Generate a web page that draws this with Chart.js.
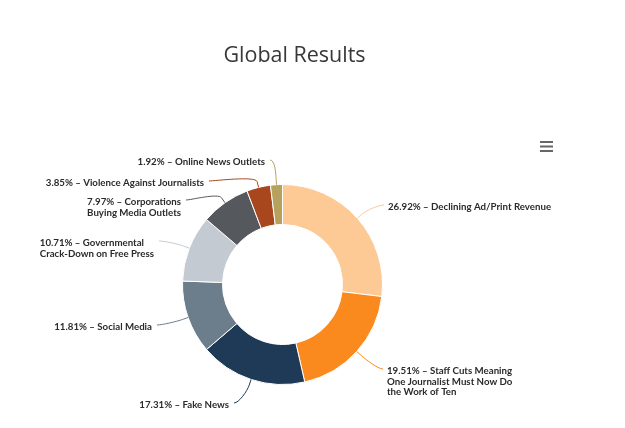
<!DOCTYPE html>
<html>
<head>
<meta charset="utf-8">
<title>Global Results</title>
<script src="https://cdn.jsdelivr.net/npm/chart.js@4.4.1/dist/chart.umd.min.js"></script>
<style>
  html, body { margin: 0; padding: 0; background: #fff; }
  #wrap { width: 625px; height: 428px; }
</style>
</head>
<body>
<div id="wrap"><canvas id="myChart" width="625" height="428"></canvas></div>
<script>
// reasons and their share of answers, clockwise from the top
var categories = [
  "Declining Ad/Print Revenue",
  "Staff Cuts Meaning One Journalist Must Now Do the Work of Ten",
  "Fake News",
  "Social Media",
  "Governmental Crack-Down on Free Press",
  "Corporations Buying Media Outlets",
  "Violence Against Journalists",
  "Online News Outlets"
];
var shares = [26.92, 19.51, 17.31, 11.81, 10.71, 7.97, 3.85, 1.92];
var sliceColors = ["#fdca96", "#fa8a1e", "#1f3a56", "#6c7d8c", "#c3cad2", "#55595e", "#a8471d", "#b6a15d"];

var chartTitle = "Global Results";

// where each label sits, relative to the pie centre, and how wide it may wrap
var labelAnchors = [
  [101.5, -79.5], [100.5, 84.5], [-48.5, 118.5], [-125.5, 40.5],
  [-123.5, -43.5], [-96.5, -84.5], [-73.5, -103.5], [-12.5, -124.5]
];
var labelWrap = [300, 132, 300, 300, 124, 102, 300, 300];

var labelFont = "bold 9.7px Lato";
var lineHeight = 10.5;

function wrapText(ctx, text, maxW) {
  var words = text.split(" ");
  var lines = [];
  var cur = "";
  for (var i = 0; i < words.length; i++) {
    var test = cur ? cur + " " + words[i] : words[i];
    if (cur && ctx.measureText(test).width > maxW) {
      lines.push(cur);
      cur = words[i];
    } else {
      cur = test;
    }
  }
  if (cur) lines.push(cur);
  return lines;
}

var pieLabels = {
  id: "pieLabels",
  afterDatasetsDraw: function(chart) {
    var ctx = chart.ctx;
    var meta = chart.getDatasetMeta(0);
    ctx.save();
    ctx.font = labelFont;
    ctx.textBaseline = "middle";
    meta.data.forEach(function(arc, i) {
      var p = arc.getProps(["x", "y", "startAngle", "endAngle", "outerRadius"], true);
      var mid = (p.startAngle + p.endAngle) / 2;
      var touch = { x: p.x + Math.cos(mid) * p.outerRadius, y: p.y + Math.sin(mid) * p.outerRadius };
      var brk = { x: p.x + Math.cos(mid) * (p.outerRadius + 6), y: p.y + Math.sin(mid) * (p.outerRadius + 6) };
      var ax = p.x + labelAnchors[i][0];
      var ay = p.y + labelAnchors[i][1];
      var left = labelAnchors[i][0] < 0;

      // soft connector like the original
      ctx.strokeStyle = sliceColors[i];
      ctx.lineWidth = 1;
      ctx.beginPath();
      ctx.moveTo(ax, ay);
      ctx.bezierCurveTo(ax + (left ? 5 : -5), ay, 2 * brk.x - touch.x, 2 * brk.y - touch.y, brk.x, brk.y);
      ctx.lineTo(touch.x, touch.y);
      ctx.stroke();

      var text = shares[i].toFixed(2) + "% \u2013 " + categories[i];
      var lines = wrapText(ctx, text, labelWrap[i]);
      var w = 0;
      lines.forEach(function(l) { w = Math.max(w, ctx.measureText(l).width); });
      var tx = left ? ax - 5 - w : ax + 4;
      ctx.fillStyle = "#2b2b2b";
      ctx.textAlign = "left";
      lines.forEach(function(l, k) {
        ctx.fillText(l, tx, ay + 2 + k * lineHeight);
      });
    });
    ctx.restore();
  },
  afterDraw: function(chart) {
    var ctx = chart.ctx;
    ctx.save();
    // title
    ctx.font = "21.5px 'Open Sans'";
    ctx.fillStyle = "#383838";
    ctx.textAlign = "center";
    ctx.textBaseline = "alphabetic";
    ctx.fillText(chartTitle, 294.5, 62);
    // export menu icon
    ctx.strokeStyle = "#666666";
    ctx.lineWidth = 2;
    ctx.beginPath();
    [142, 146.5, 151].forEach(function(y) {
      ctx.moveTo(540, y);
      ctx.lineTo(553, y);
    });
    ctx.stroke();
    ctx.restore();
  }
};

var ctx = document.getElementById("myChart");
var myChart = new Chart(ctx, {
  type: "doughnut",
  plugins: [pieLabels],
  data: {
    labels: categories,
    datasets: [{
      data: shares,
      backgroundColor: sliceColors,
      borderColor: "#ffffff",
      borderWidth: 1
    }]
  },
  options: {
    responsive: false,
    animation: false,
    cutout: "60%",
    layout: { padding: { left: 182, right: 242, top: 184, bottom: 43 } },
    plugins: {
      legend: { display: false },
      tooltip: { enabled: false },
      title: { display: false }
    }
  }
});
</script>
</body>
</html>
